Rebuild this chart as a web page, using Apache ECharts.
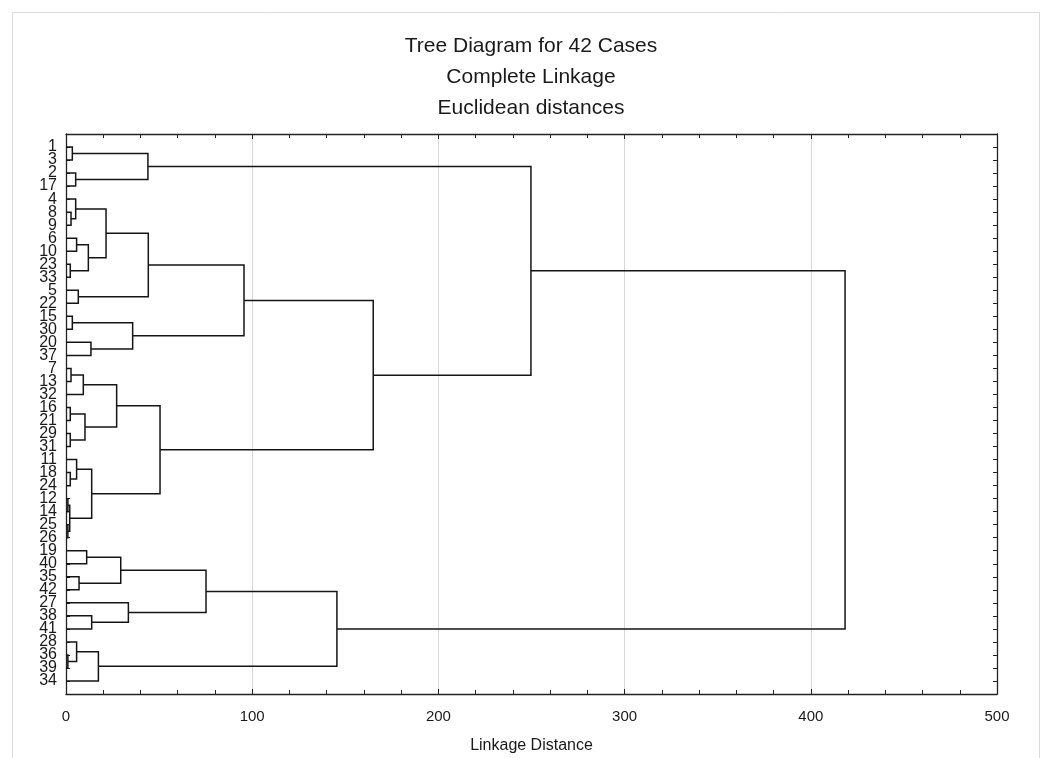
<!DOCTYPE html>
<html><head><meta charset="utf-8">
<script src="https://cdn.jsdelivr.net/npm/echarts@6/dist/echarts.min.js"></script>
<style>html,body{margin:0;padding:0;background:#fff}#c{width:1052px;height:758px}</style>
</head><body><div id="c"></div>
<script>
// ---- data ----
const titleLines = ['Tree Diagram for 42 Cases', 'Complete Linkage', 'Euclidean distances'];
const xAxisName = 'Linkage Distance';
const xTickValues = [0, 100, 200, 300, 400, 500];
const leafOrder = ['1','3','2','17','4','8','9','6','10','23','33','5','22','15','30','20','37',
  '7','13','32','16','21','29','31','11','18','24','12','14','25','26',
  '19','40','35','42','27','38','41','28','36','39','34'];
// merges: 'L#' = leaf label, 'M#' = earlier merge index
const mergeLeft  = ['L1','L2','M0','L8','L4','L6','L23','M5','M4','L5','M8','L15','L20','M11','M10',
  'L7','M15','L16','L29','M17','M16','L18','L11','L12','L25','M23','M22','M20','M14','M2',
  'L19','L35','M30','L38','L27','M32','L36','L28','M37','M35','M29'];
const mergeRight = ['L3','L17','M1','L9','M3','L10','L33','M6','M7','L22','M9','L30','L37','M12','M13',
  'L13','L32','L21','L31','M18','M19','L24','M21','L14','L26','M24','M25','M26','M27','M28',
  'L40','L42','M31','L41','M33','M34','L39','M36','L34','M38','M39'];
const mergeHeight = [3.4, 5.2, 44.0, 2.7, 5.2, 5.7, 2.3, 12.0, 21.5, 6.6, 44.2, 3.4, 13.4, 35.8, 95.6,
  2.7, 9.3, 2.3, 2.3, 10.2, 27.2, 2.3, 5.7, 1.0, 1.0, 2.0, 13.8, 50.5, 165.0, 249.7,
  11.1, 7.0, 29.4, 13.8, 33.5, 75.2, 1.0, 5.7, 17.4, 145.5, 418.4];

// ---- build links from the merge table ----
const nodePos = {};
leafOrder.forEach((lab, i) => { nodePos['L' + lab] = [0, i + 1]; });
const links = [];
mergeHeight.forEach((h, i) => {
  const a = nodePos[mergeLeft[i]], b = nodePos[mergeRight[i]];
  links.push([a[0], a[1], h, b[1], b[0]]);
  nodePos['M' + i] = [h, (a[1] + b[1]) / 2];
});

const FONT = "'Liberation Sans', Arial, sans-serif";
const TXT = '#1a1a1a';
const AX = '#222';
const tickCommon = {inside: true, length: 5, lineStyle: {color: AX, width: 1}};
const minorCommon = {show: true, splitNumber: 5, length: 4, lineStyle: {color: AX, width: 1}};
const chart = echarts.init(document.getElementById('c'), null, {renderer: 'canvas'});
chart.setOption({
  animation: false,
  backgroundColor: '#fff',
  graphic: [
    {type: 'rect', shape: {x: 12.5, y: 12.5, width: 1027, height: 800}, style: {stroke: '#dcdcdc', fill: 'none', lineWidth: 1}, silent: true},
    ...titleLines.map((t, i) => ({type: 'text', x: 531, y: 46 + i * 31,
      style: {text: t, fontSize: 21, fontFamily: FONT, fill: TXT, textAlign: 'center', textVerticalAlign: 'middle'}}))
  ],
  grid: {left: 66, right: 55, top: 134, bottom: 64, outerBoundsMode: 'none', containLabel: false},
  xAxis: [{
    type: 'value', min: 0, max: 500, interval: 100, position: 'bottom',
    name: xAxisName, nameLocation: 'middle', nameGap: 44,
    nameTextStyle: {fontSize: 16, fontFamily: FONT, color: TXT},
    axisLine: {onZero: false, lineStyle: {color: AX, width: 1.3}},
    axisTick: tickCommon, minorTick: minorCommon,
    axisLabel: {fontSize: 15, fontFamily: FONT, color: TXT, margin: 15,
      formatter: v => xTickValues.includes(v) ? String(v) : ''},
    splitLine: {show: true, lineStyle: {color: '#d8d8d8', width: 1}}
  }, {
    type: 'value', min: 0, max: 500, interval: 100, position: 'top',
    axisLine: {onZero: false, lineStyle: {color: AX, width: 1.3}},
    axisTick: tickCommon, minorTick: minorCommon,
    axisLabel: {show: false}, splitLine: {show: false}
  }],
  yAxis: [{
    type: 'value', inverse: true, min: 0, max: leafOrder.length + 1, interval: 1, position: 'left',
    axisLine: {onZero: false, lineStyle: {color: AX, width: 1.3}},
    axisTick: {inside: true, length: 4, lineStyle: {color: AX}},
    axisLabel: {fontSize: 16, fontFamily: FONT, color: TXT, margin: 9,
      formatter: v => leafOrder[v - 1] || ''},
    splitLine: {show: false}
  }, {
    type: 'value', inverse: true, min: 0, max: leafOrder.length + 1, interval: 1, position: 'right',
    axisLine: {onZero: false, lineStyle: {color: AX, width: 1.3}},
    axisTick: {inside: true, length: 4, lineStyle: {color: AX}},
    axisLabel: {show: false}, splitLine: {show: false}
  }],
  series: [{
    type: 'custom',
    xAxisIndex: 0, yAxisIndex: 0,
    data: links,
    encode: {x: [0, 2, 4], y: [1, 3]},
    renderItem: (params, api) => {
      const x1 = api.value(0), y1 = api.value(1), h = api.value(2), y2 = api.value(3), x2 = api.value(4);
      return {
        type: 'polyline',
        shape: {points: [api.coord([x1, y1]), api.coord([h, y1]), api.coord([h, y2]), api.coord([x2, y2])]},
        style: {stroke: '#151515', lineWidth: 1.5, fill: null}
      };
    }
  }]
});
</script></body></html>
